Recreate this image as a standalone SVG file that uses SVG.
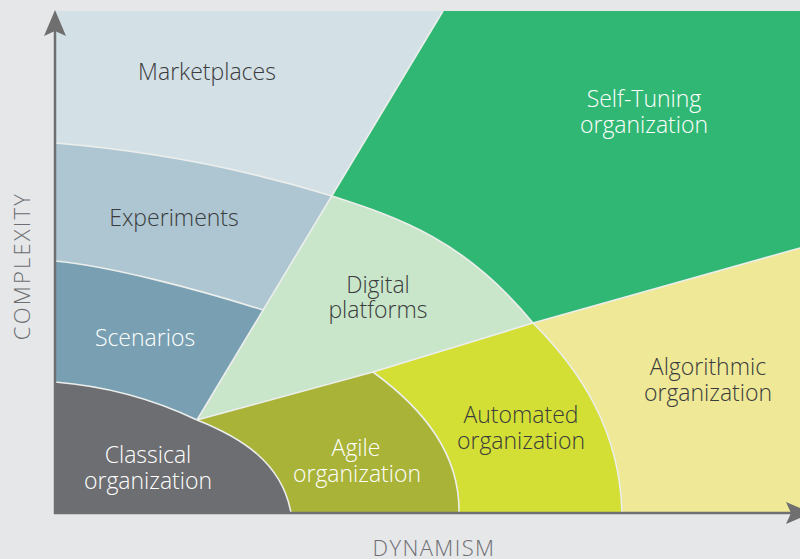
<svg xmlns="http://www.w3.org/2000/svg" width="800" height="559" viewBox="0 0 800 559">
<style>
  .lbl { font-family: "Open Sans", "Liberation Sans", sans-serif; font-size: 23px; font-weight: 300; text-anchor: middle; }
  .dark { fill: #3a3b3c; }
  .light { fill: #ffffff; }
  .sep { fill: none; stroke: #eceeec; stroke-width: 1.6; }
  .axis { stroke: #6f6f70; stroke-width: 2.5; fill: none; }
  .axhead { fill: #6f6f70; }
  .axlbl { font-family: "Open Sans", "Liberation Sans", sans-serif; font-size: 22px; font-weight: 300; fill: #6d6e72; text-anchor: middle; }
</style>
<rect x="0" y="0" width="800" height="559" fill="#e6e7e9"/>

<g id="marketplaces">
  <path d="M55,11 L443,11 L332,196 Q200,155 55,143 Z" fill="#d3e0e6"/>
  <text class="lbl dark" x="207" y="80">Marketplaces</text>
</g>
<g id="self-tuning">
  <path d="M443,11 L800,11 L800,248 L533,323 C465,240 400,218 332,196 Z" fill="#31b774"/>
  <text class="lbl light" x="644" y="107">Self-Tuning</text>
  <text class="lbl light" x="644" y="133">organization</text>
</g>
<g id="experiments">
  <path d="M55,143 Q200,155 332,196 L263,310 C200,290 110,266 55,261 Z" fill="#adc6d2"/>
  <text class="lbl dark" x="174" y="226">Experiments</text>
</g>
<g id="scenarios">
  <path d="M55,261 C110,266 200,290 263,310 L197,420 Q130,388 55,382 Z" fill="#78a0b2"/>
  <text class="lbl light" x="145" y="346">Scenarios</text>
</g>
<g id="classical">
  <path d="M55,382 Q130,388 197,420 C240,437 282,462 291,513 L55,513 Z" fill="#6d6e72"/>
  <text class="lbl light" x="148" y="463">Classical</text>
  <text class="lbl light" x="148" y="489">organization</text>
</g>
<g id="digital-platforms">
  <path d="M332,196 C400,218 465,240 533,323 L373,372 L197,420 Z" fill="#c9e6ca"/>
  <text class="lbl dark" x="378" y="293">Digital</text>
  <text class="lbl dark" x="378" y="318">platforms</text>
</g>
<g id="agile">
  <path d="M197,420 L373,372 C425,410 460,455 459,513 L291,513 C282,462 240,437 197,420 Z" fill="#a8b338"/>
  <text class="lbl light" x="356" y="456">Agile</text>
  <text class="lbl light" x="357" y="482">organization</text>
</g>
<g id="automated">
  <path d="M373,372 L533,323 C580,370 620,430 622,513 L459,513 C460,455 425,410 373,372 Z" fill="#d3df34"/>
  <text class="lbl dark" x="521" y="423">Automated</text>
  <text class="lbl dark" x="521" y="449">organization</text>
</g>
<g id="algorithmic">
  <path d="M533,323 L800,248 L800,513 L622,513 C620,430 580,370 533,323 Z" fill="#eee897"/>
  <text class="lbl dark" x="708" y="375">Algorithmic</text>
  <text class="lbl dark" x="708" y="401">organization</text>
</g>

<g id="connectors">
  <path class="sep" d="M55,143 Q200,155 332,196"/>
  <path class="sep" d="M443,11 L197,420"/>
  <path class="sep" d="M55,261 C110,266 200,290 263,310"/>
  <path class="sep" d="M55,382 Q130,388 197,420"/>
  <path class="sep" d="M197,420 C240,437 282,462 291,513"/>
  <path class="sep" d="M197,420 L373,372 L533,323 L800,248"/>
  <path class="sep" d="M373,372 C425,410 460,455 459,513"/>
  <path class="sep" d="M533,323 C580,370 620,430 622,513"/>
  <path class="sep" d="M332,196 C400,218 465,240 533,323"/>
</g>

<g id="axes">
  <path class="axis" d="M55,514 L55,30"/>
  <polygon class="axhead" points="55,10 66,36 55,31 44,36"/>
  <path class="axis" d="M54,513 L792,513"/>
  <polygon class="axhead" points="812,513 786,502 791,513 786,524"/>
  <text class="axlbl" transform="translate(30,266) rotate(-90)" letter-spacing="2.2">COMPLEXITY</text>
  <text class="axlbl" x="434" y="556" letter-spacing="1.4">DYNAMISM</text>
</g>
</svg>
